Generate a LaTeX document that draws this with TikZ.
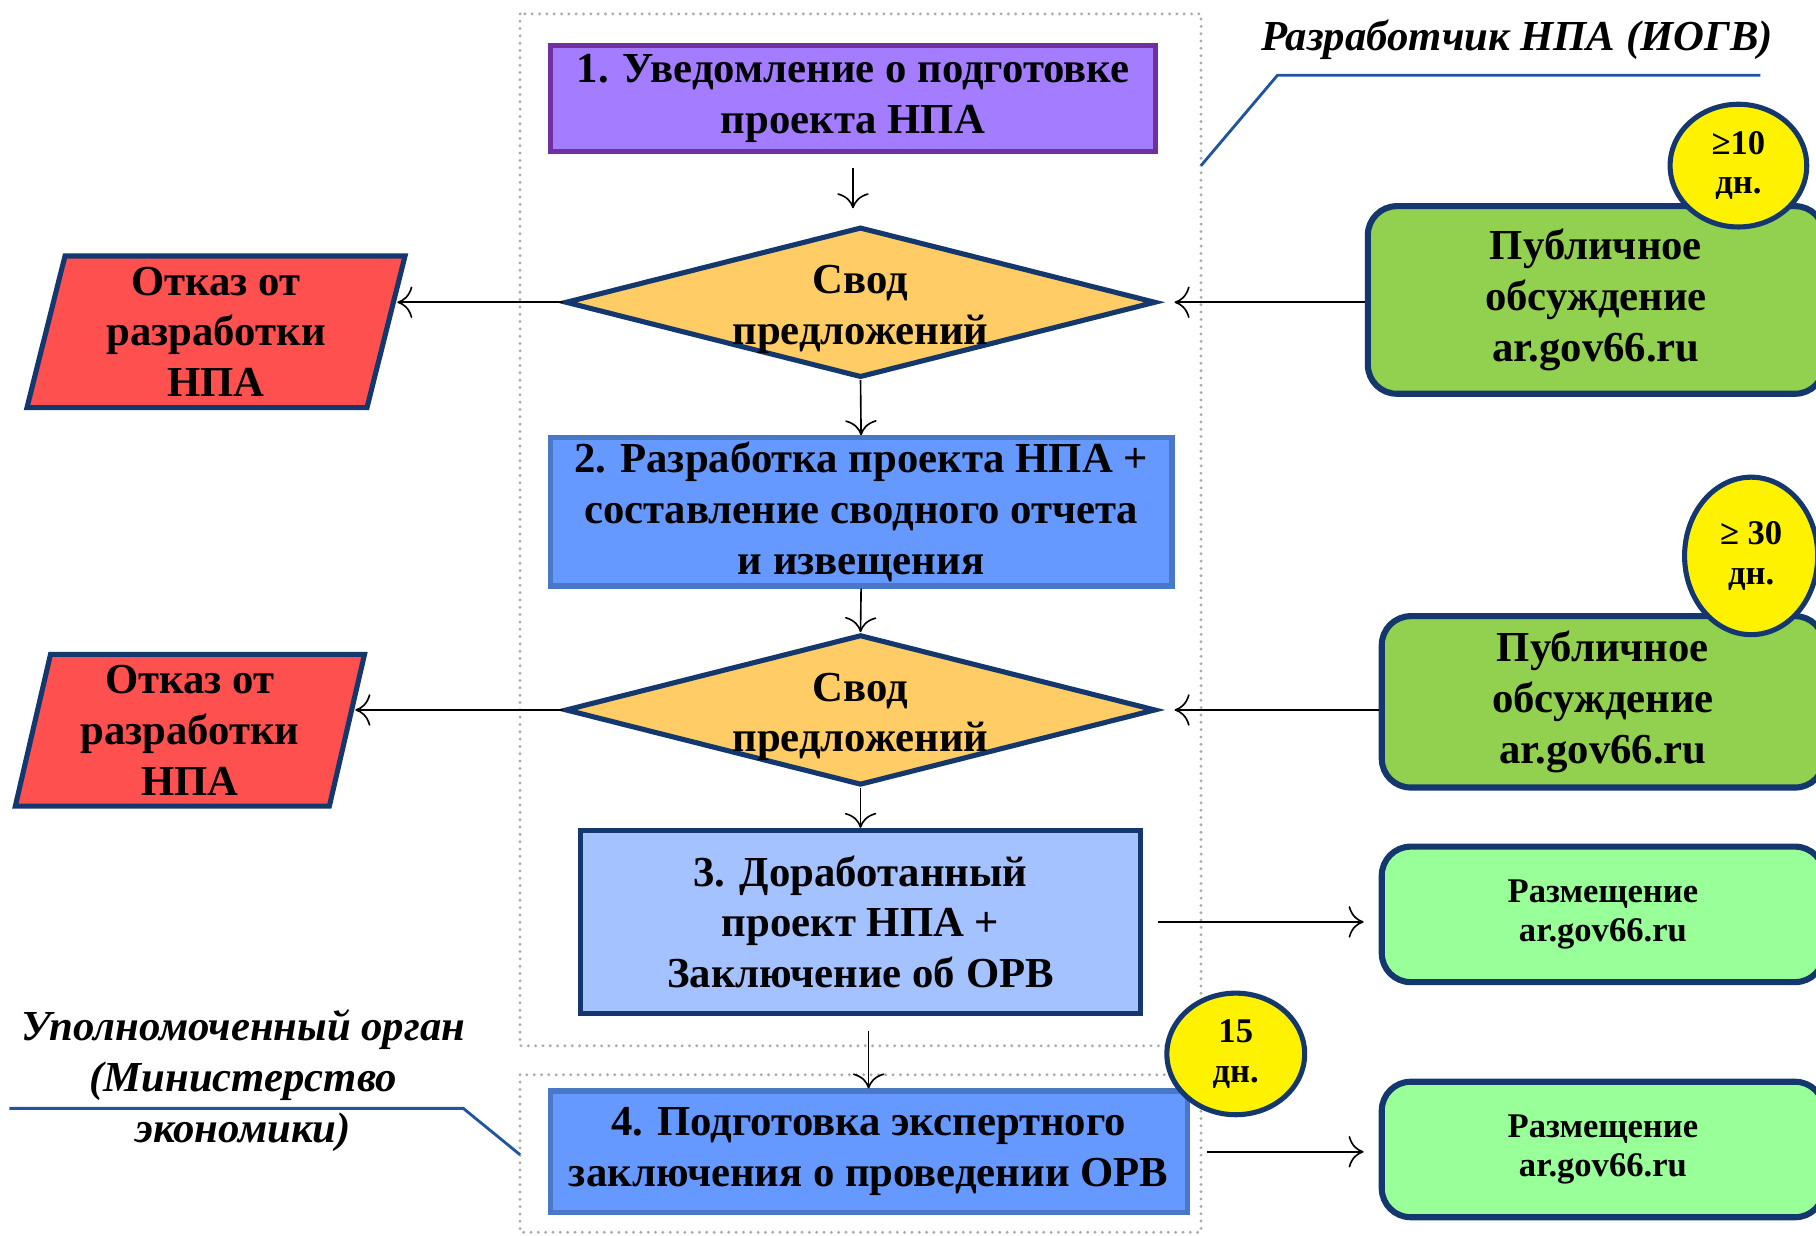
\documentclass[tikz,border=0pt]{standalone}
\usepackage{fontspec}
\setmainfont{Liberation Serif}
\usetikzlibrary{arrows.meta,shapes,positioning,calc}

\definecolor{navyline}{HTML}{14386E}
\definecolor{purpleline}{HTML}{7030A0}
\definecolor{lilac}{HTML}{A47CFF}
\definecolor{sand}{HTML}{FFCC66}
\definecolor{refusalred}{HTML}{FF5050}
\definecolor{pubgreen}{HTML}{92D050}
\definecolor{postgreen}{HTML}{99FF99}
\definecolor{procblue}{HTML}{6699FF}
\definecolor{procline}{HTML}{4A78C8}
\definecolor{paleblue}{HTML}{A4C2FF}
\definecolor{calloutblue}{HTML}{1F55A0}

\newcommand{\bigtxt}{\fontsize{21}{25}\selectfont\bfseries}
\newcommand{\smalltxt}{\fontsize{17}{19.5}\selectfont\bfseries}

\tikzset{
	flow/.style={-{>[scale=2.2]}, line width=0.8pt},
	frame/.style={gray!65, line width=1.6pt, line cap=round, dash pattern=on 0pt off 3.6pt},
	callout/.style={calloutblue, line width=1.4pt},
	caption/.style={font=\fontsize{21}{25}\selectfont\bfseries\itshape},
	notebox/.style={draw=purpleline, fill=lilac, line width=2.5pt, align=center, font=\bigtxt, inner sep=0pt},
	procbox/.style={draw=procline, fill=procblue, line width=2.5pt, align=center, font=\bigtxt, inner sep=0pt},
	decision/.style={diamond, draw=navyline, fill=sand, line width=2.5pt, inner sep=0pt},
	refusal/.style={trapezium, trapezium left angle=78, trapezium right angle=102,
		trapezium stretches=true, draw=navyline, fill=refusalred, line width=2.5pt,
		align=center, font=\bigtxt, inner sep=0pt},
	pubbox/.style={rounded corners=0.5cm, draw=navyline, fill=pubgreen, line width=3pt, align=center, font=\bigtxt},
	postbox/.style={rounded corners=0.5cm, draw=navyline, fill=postgreen, line width=3pt, align=center, font=\smalltxt},
	days/.style={ellipse, draw=navyline, fill=yellow, line width=2.5pt, align=center, font=\smalltxt, inner sep=0pt}
}

\begin{document}
\begin{tikzpicture}[x=0.02cm, y=-0.02cm]

	\clip (0,0) rectangle (1568,1067);

	% dotted frames
	\draw[frame] (449,12) rectangle (1037,903);
	\draw[frame] (449,928) rectangle (1037,1064);

	% who does what
	\node[caption] (dev) at (1310,34) {Разработчик НПА (ИОГВ)};
	\draw[callout] (1037,143) -- (1103,65) -- (1520,65);
	\node[caption, align=center] (auth) at (210,933) {Уполномоченный орган\\(Министерство\\экономики)};
	\draw[callout] (8,957) -- (400,957) -- (449,997);

	% main column
	\node[notebox, minimum width=10.46cm, minimum height=1.84cm] (n1) at (736.5,85) {1. Уведомление о подготовке\\проекта НПА};
	\node[decision, minimum width=10.2cm, minimum height=2.6cm] (d1) at (743,261) {};
	\node[font=\bigtxt, align=center] (d1t) at (743,267) {Свод\\предложений};
	\node[procbox, minimum width=10.74cm, minimum height=2.56cm] (b2) at (743.5,442) {2. Разработка проекта НПА +\\составление сводного отчета\\и извещения};
	\node[decision, minimum width=10.2cm, minimum height=2.6cm] (d2) at (743,613) {};
	\node[font=\bigtxt, align=center] (d2t) at (743,619) {Свод\\предложений};
	\node[procbox, draw=navyline, fill=paleblue, minimum width=9.68cm, minimum height=3.16cm] (b3) at (743,796) {3. Доработанный\\проект НПА +\\Заключение об ОРВ};
	\node[procbox, minimum width=11cm, minimum height=2.1cm] (b4) at (750,994.5) {4. Подготовка экспертного\\заключения о проведении ОРВ};

	% refusals
	\node[refusal, minimum width=6.54cm, minimum height=2.62cm] (r1) at (186.5,286.5) {Отказ от\\разработки\\НПА};
	\node[refusal, minimum width=6.04cm, minimum height=2.62cm] (r2) at (164,630.5) {Отказ от\\разработки\\НПА};

	% public side
	\node[pubbox, minimum width=7.88cm, minimum height=3.24cm] (g1) at (1378,259) {Публичное\\обсуждение\\ar.gov66.ru};
	\node[pubbox, minimum width=7.64cm, minimum height=2.96cm] (g2) at (1384,606) {Публичное\\обсуждение\\ar.gov66.ru};
	\node[postbox, minimum width=7.64cm, minimum height=2.34cm] (g3) at (1384,789.5) {Размещение\\ar.gov66.ru};
	\node[postbox, minimum width=7.64cm, minimum height=2.34cm] (g4) at (1384,992.5) {Размещение\\ar.gov66.ru};

	% terms
	\node[days, minimum width=2.36cm, minimum height=2.12cm] (c1) at (1501,143) {≥10\\дн.};
	\node[days, minimum width=2.3cm, minimum height=2.72cm] (c2) at (1512,480) {≥ 30\\дн.};
	\node[days, minimum width=2.38cm, minimum height=2.1cm] (c3) at (1067,910) {15\\дн.};

	% arrows
	\draw[flow, shorten <=0.24cm, shorten >=0.28cm] (n1.south) -- (n1.south |- d1.north);
	\draw[flow, shorten >=0.15cm] (d1.west) -- (d1.west -| r1.east);
	\draw[flow, shorten >=0.28cm] (g1.west |- d1.east) -- (d1.east);
	\draw[flow] (d1.south) -- (b2.north);
	\draw[flow] (b2.south) -- (d2.north);
	\draw[flow, shorten >=0.1cm] (d2.west) -- (d2.west -| r2.east);
	\draw[flow, shorten >=0.28cm] (g2.west |- d2.east) -- (d2.east);
	\draw[flow] (d2.south) -- (b3.north);
	\draw[flow, shorten <=0.26cm, shorten >=0.26cm] (b3.east) -- (b3.east -| g3.west);
	\draw[flow, shorten <=0.26cm] (b4.north |- b3.south) -- (b4.north);
	\draw[flow, shorten <=0.3cm, shorten >=0.26cm] (b4.east) -- (b4.east -| g4.west);

\end{tikzpicture}
\end{document}
